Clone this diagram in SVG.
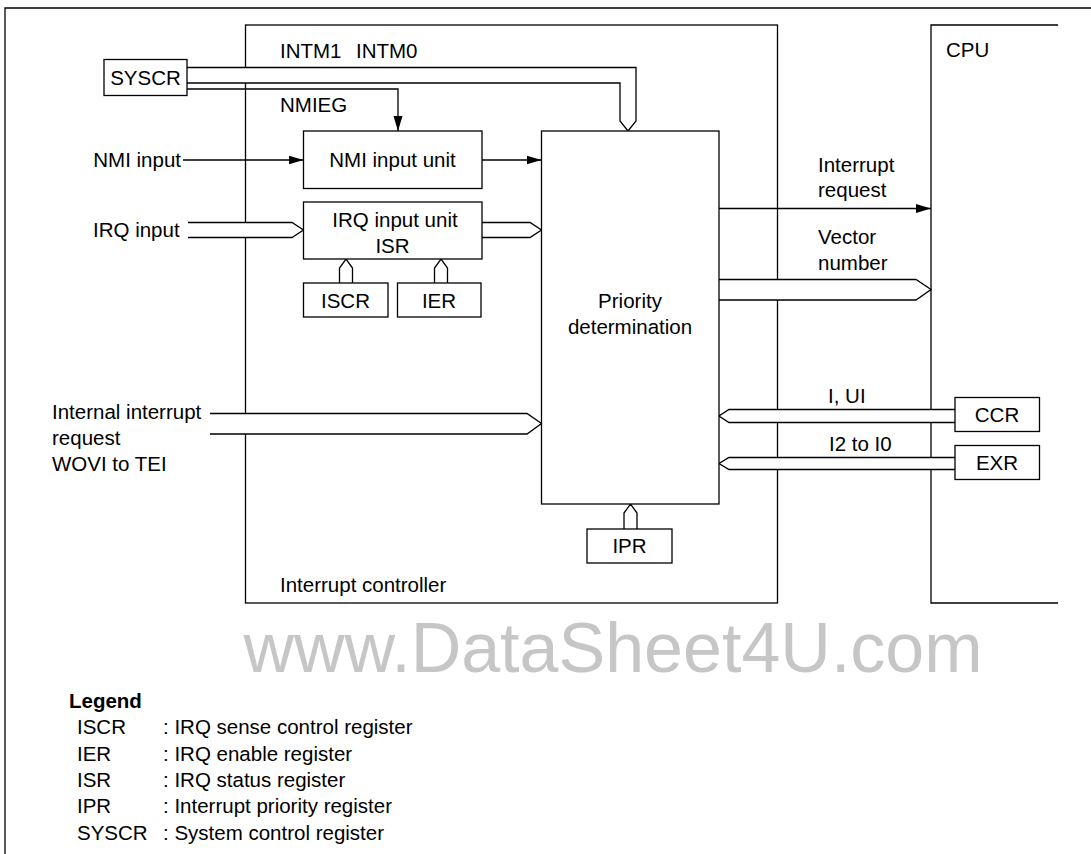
<svg xmlns="http://www.w3.org/2000/svg" width="1091" height="854" viewBox="0 0 1091 854">
<style>
  text { font-family: "Liberation Sans", Arial, sans-serif; font-size: 20.5px; fill: #000; }
  .m { text-anchor: middle; }
  .box { fill: #fff; stroke: #000; stroke-width: 1.3; }
  .ln { fill: none; stroke: #000; stroke-width: 1.3; }
  .bus { fill: #fff; stroke: #000; stroke-width: 1.3; stroke-linejoin: miter; }
  .wm { font-size: 70px; fill: #c6c6c6; text-anchor: middle; }
  .lg { font-size: 20.5px; }
</style>
<defs>
  <marker id="ah" markerUnits="userSpaceOnUse" markerWidth="16" markerHeight="10" refX="15" refY="5" orient="auto">
    <path d="M0,0.5 L15,5 L0,9.5 Z" fill="#000"/>
  </marker>
</defs>
<rect width="1091" height="854" fill="#fff"/>
<g id="frame"><path class="ln" d="M5,854 V8 H1091"/></g>
<g id="interrupt-controller">
  <rect class="box" x="245.5" y="25" width="532" height="578"/>
  <text x="280" y="58">INTM1</text>
  <text x="356" y="58">INTM0</text>
  <text x="280" y="112">NMIEG</text>
  <text x="280" y="592">Interrupt controller</text>
</g>
<g id="cpu">
  <path class="ln" d="M1058,25 H931 V603 H1058"/>
  <text x="946" y="57">CPU</text>
</g>
<g id="connectors">
  <path class="bus" d="M187,67.5 H636 V121 L628,131 L620,121 V83 H187"/>
  <path class="ln" d="M187,89 H398 V131" marker-end="url(#ah)"/>
  <path class="ln" d="M183,160 H303.5" marker-end="url(#ah)"/>
  <path class="ln" d="M482,160 H541.5" marker-end="url(#ah)"/>
  <path class="bus" d="M188,222.5 H292 L303.5,230 L292,237.5 H188"/>
  <path class="bus" d="M482,222.5 H530 L541.5,230 L530,237.5 H482"/>
  <path class="bus" d="M339.5,283 V268 L346,259 L352.5,268 V283"/>
  <path class="bus" d="M434.5,283 V268 L441,259 L447.5,268 V283"/>
  <path class="bus" d="M210,413.5 H527 L541.5,423.5 L527,434 H210"/>
  <path class="ln" d="M719,208.5 H931" marker-end="url(#ah)"/>
  <path class="bus" d="M719,279.5 H916 L931,289.5 L916,300 H719"/>
  <path class="bus" d="M955,409.5 H729 L719,416 L729,422.5 H955"/>
  <path class="bus" d="M955,457.5 H729 L719,463.5 L729,469.5 H955"/>
  <path class="bus" d="M624,529 V513 L630.5,504 L637,513 V529"/>
</g>
<g id="labels">
  <text x="181" y="167" text-anchor="end">NMI input</text>
  <text x="93" y="237">IRQ input</text>
  <text x="52" y="419">Internal interrupt</text>
  <text x="52" y="445">request</text>
  <text x="52" y="471">WOVI to TEI</text>
  <text x="818" y="172">Interrupt</text>
  <text x="818" y="197">request</text>
  <text x="818" y="244">Vector</text>
  <text x="818" y="270">number</text>
  <text x="828" y="403">I, UI</text>
  <text x="829" y="451">I2 to I0</text>
</g>
<g id="syscr">
  <rect class="box" x="104" y="59.5" width="83" height="36"/>
  <text class="m" x="145.5" y="85">SYSCR</text>
</g>
<g id="nmi-unit">
  <rect class="box" x="303.5" y="131" width="178.5" height="57.5"/>
  <text class="m" x="392.5" y="167">NMI input unit</text>
</g>
<g id="irq-unit">
  <rect class="box" x="303.5" y="202" width="178.5" height="57"/>
  <text class="m" x="395" y="227">IRQ input unit</text>
  <text class="m" x="392.5" y="253">ISR</text>
</g>
<g id="iscr">
  <rect class="box" x="303.5" y="283" width="84.5" height="34"/>
  <text class="m" x="345.5" y="308">ISCR</text>
</g>
<g id="ier">
  <rect class="box" x="397.5" y="283" width="83.5" height="34"/>
  <text class="m" x="439" y="308">IER</text>
</g>
<g id="priority">
  <rect class="box" x="541.5" y="131" width="177.5" height="373"/>
  <text class="m" x="630" y="308">Priority</text>
  <text class="m" x="630" y="334">determination</text>
</g>
<g id="ipr">
  <rect class="box" x="587" y="529" width="85" height="34"/>
  <text class="m" x="629.5" y="553">IPR</text>
</g>
<g id="ccr">
  <rect class="box" x="955" y="397.5" width="84.5" height="34"/>
  <text class="m" x="997" y="422">CCR</text>
</g>
<g id="exr">
  <rect class="box" x="955" y="445.5" width="84.5" height="34"/>
  <text class="m" x="997" y="470">EXR</text>
</g>
<g id="watermark">
  <text class="wm" x="613" y="672">www.DataSheet4U.com</text>
</g>
<g id="legend">
  <text x="69" y="708" font-weight="bold">Legend</text>
  <text x="77" y="734">ISCR</text><text x="163" y="734">: IRQ sense control register</text>
  <text x="77" y="761">IER</text><text x="163" y="761">: IRQ enable register</text>
  <text x="77" y="787">ISR</text><text x="163" y="787">: IRQ status register</text>
  <text x="77" y="813">IPR</text><text x="163" y="813">: Interrupt priority register</text>
  <text x="77" y="840">SYSCR</text><text x="163" y="840">: System control register</text>
</g>
</svg>
